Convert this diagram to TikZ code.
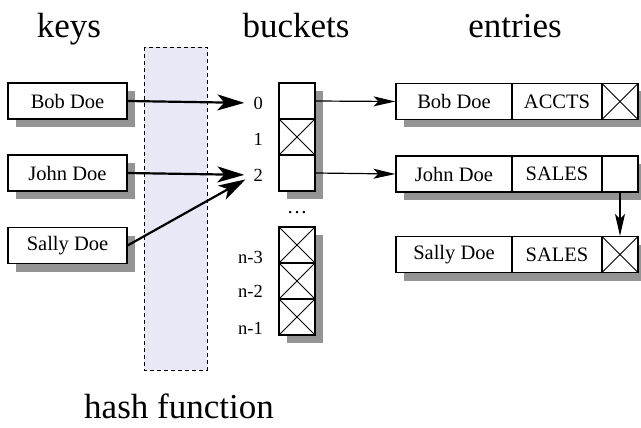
\documentclass[tikz,border=0pt]{standalone}
\usepackage{fontspec}
\setmainfont{Liberation Serif}
\usetikzlibrary{arrows.meta,shadows}

\begin{document}
\begin{tikzpicture}[x=1pt,y=-1pt]
\tikzstyle{every node}+=[inner sep=0pt, font=\fontsize{20.5}{22}\selectfont]
\tikzstyle{title}=[anchor=base, font=\fontsize{35}{38}\selectfont]
\tikzstyle{cell}=[draw, line width=1.1pt, fill=white, minimum height=36pt, general shadow={fill=black!42, shadow xshift=8pt, shadow yshift=-8pt}]
\tikzstyle{nullcell}=[cell, path picture={\draw[line width=0.8pt] (path picture bounding box.north west) -- (path picture bounding box.south east) (path picture bounding box.south west) -- (path picture bounding box.north east);}]
\tikzstyle{idx}=[anchor=east, font=\fontsize{18.5}{20}\selectfont]
\tikzstyle{hasharrow}=[line width=2.2pt, -{Stealth[length=27pt,width=16pt,inset=7pt]}, shorten >=9pt]
\tikzstyle{linkarrow}=[line width=1.2pt, -{Stealth[length=22pt,width=10pt,inset=5pt]}]
\useasboundingbox (0,0) rectangle (641,428);

% hash function band
\draw[dash pattern=on 4pt off 3pt, line width=0.9pt, fill={rgb,255:red,232;green,232;blue,246}] (144,47) rectangle (207,370);

\node[title] (tkeys) at (69,38) {keys};
\node[title] (tbuckets) at (296,38) {buckets};
\node[title] (tentries) at (515,38) {entries};
\node[title] (thash) at (179,418) {hash function};

% keys
\node[cell, minimum width=119pt] (kbob) at (67.5,101) {Bob Doe};
\node[cell, minimum width=119pt] (kjohn) at (67.5,173) {John Doe};
\node[cell, minimum width=119pt] (ksally) at (67.5,245.5) {Sally Doe};

% buckets
\foreach \n/\y/\st in {0/101/cell, 1/137/nullcell, 2/173/cell}
  \node[\st, minimum width=36pt] (b\n) at (297,\y) {};
\node (bdots) at (297,213) {\dots};
\foreach \n/\y in {3/245, 2/281, 1/317}
  \node[nullcell, minimum width=36pt] (bn\n) at (297,\y) {};
\foreach \n/\t/\y in {0/0/103, 1/1/139, 2/2/175, n3/n-3/257, n2/n-2/291, n1/n-1/328}
  \node[idx] (l\n) at (263,\y) {\t};

% entries
\foreach \r/\y/\who/\dept/\st in {bob/101.5/Bob Doe/ACCTS/nullcell, john/174/John Doe/SALES/cell, sally/254.5/Sally Doe/SALES/nullcell} {
  \node[cell, minimum width=116pt] (\r-who) at (454,\y) {\who};
  \node[cell, minimum width=90pt] (\r-dept) at (557,\y) {\dept};
  \node[\st, minimum width=36pt] (\r-next) at (620,\y) {};
}

\draw[hasharrow] (kbob.east) -- (l0.west);
\draw[hasharrow] (kjohn.east) -- (l2.west);
\draw[hasharrow] (ksally.east) -- (l2.west);
\draw[linkarrow] (b0.east) -- (bob-who.west);
\draw[linkarrow] (b2.east) -- (john-who.west);
\draw[linkarrow] (john-next.south) -- (sally-next.north);
\end{tikzpicture}
\end{document}
